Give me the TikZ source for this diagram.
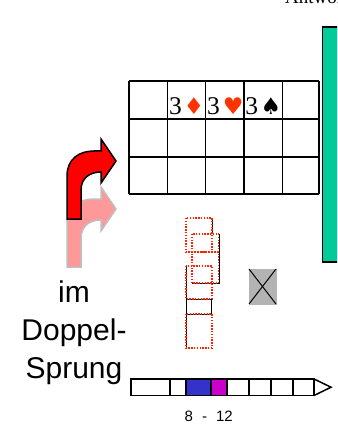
\documentclass[tikz,border=0pt]{standalone}
\usepackage{fontspec}
\setmainfont{Liberation Serif}
\newfontfamily\arialfont{Liberation Sans}
\newfontfamily\suitfont{DejaVu Sans}
\definecolor{suitred}{HTML}{FF3300}
\definecolor{tealgreen}{HTML}{00CC99}
\definecolor{arrowred}{HTML}{FF0000}
\definecolor{arrowpink}{HTML}{FF9999}
\definecolor{barblue}{HTML}{3333CC}
\definecolor{barmag}{HTML}{CC00CC}
\definecolor{xgray}{HTML}{B3B3B3}
\definecolor{dotred}{HTML}{FF2200}
\tikzset{
  gridline/.style={line width=1.5pt, black},
  cardtxt/.style={inner sep=0pt, font=\fontsize{25.5}{25.5}\selectfont},
  suittxt/.style={inner sep=0pt, font=\suitfont\fontsize{23}{23}\selectfont},
  bigsans/.style={inner sep=0pt, font=\arialfont\fontsize{30}{30}\selectfont},
  dotbox/.style={dotred, line width=1.4pt, dash pattern=on 1.4pt off 1.4pt},
  shadowline/.style={black, line width=0.9pt},
  barline/.style={line width=1.5pt, black},
}
\begin{document}
\begin{tikzpicture}[x=1pt,y=-1pt]
\useasboundingbox (0,0) rectangle (337,430);
\begin{scope}
\clip (0,0) rectangle (337,430);
\node[anchor=base west, inner sep=0pt, font=\fontsize{19}{19}\selectfont] (antw) at (285,4) {Antwort};
\draw[line width=1.5pt, fill=tealgreen] (322.7,27) rectangle (345,262);
\end{scope}

% grid
\foreach \x in {129,167.3,205.7,244,282.7,319} \draw[gridline] (\x,81) -- (\x,194);
\foreach \y in {81,119,157,194} \draw[gridline] (129,\y) -- (319,\y);
\node[cardtxt, anchor=base west] (t1) at (168.8,114.3) {3};
\node[cardtxt, anchor=base west] (t2) at (207,114.3) {3};
\node[cardtxt, anchor=base west] (t3) at (245.2,114.3) {3};
\node[suittxt, text=suitred] (s1) at (194,106.5) {♦};
\node[suittxt, text=suitred] (s2) at (233.3,106.5) {♥};
\node[suittxt, text=black] (s3) at (271,106.5) {♠};

% arrows
\begin{scope}[yshift=-48pt]
\draw[fill=arrowpink, draw=black!25, line width=1.5pt]
  (67,219) -- (67,176) .. controls (67,159) and (79,151) .. (94,151) -- (101,151)
  -- (101,139) -- (116,161) -- (101,183) -- (101,172)
  .. controls (90,172) and (81,178) .. (81,190) -- (81,219) -- cycle;
\end{scope}
\draw[fill=arrowred, draw=black, line width=1.5pt]
  (67,219) -- (67,176) .. controls (67,159) and (79,151) .. (94,151) -- (101,151)
  -- (101,139) -- (116,161) -- (101,183) -- (101,172)
  .. controls (90,172) and (81,178) .. (81,190) -- (81,219) -- cycle;

% stacked dotted boxes
\draw[shadowline] (186,266) -- (186,348);
\draw[shadowline] (186,299) rectangle (211,314);
\draw[shadowline] (219,234) -- (219,283) -- (192,283);
\draw[shadowline] (212,218) -- (212,234);
\draw[dotbox] (186,266) rectangle (212,299);
\draw[dotbox] (186,314) rectangle (212,348);
\draw[dotbox] (192,234) rectangle (218.5,283);
\draw[dotbox] (192,252) -- (218.5,252);
\draw[dotbox] (186,218) rectangle (212,252);

% grey X box
\draw[fill=xgray, draw=xgray] (249,269) rectangle (276,304);
\draw[black, line width=1pt] (249,269) -- (276,304);
\draw[black, line width=1pt] (276,269) -- (249,304);

% text
\node[bigsans, anchor=base] (im) at (74,302.7) {im};
\node[bigsans, anchor=base] (dop) at (74,340) {Doppel-};
\node[bigsans, anchor=base] (spr) at (74,378.3) {Sprung};

% bar
\fill[barblue] (186,379) rectangle (211,395.5);
\fill[barmag] (211,379) rectangle (227,395.5);
\draw[barline] (131,379) rectangle (314,395.5);
\foreach \x in {170,186,211,227,249,271,293} \draw[barline] (\x,379) -- (\x,395.5);
\draw[barline, line join=miter] (314,379) -- (331,387.2) -- (314,395.5);

\node[anchor=base west, inner sep=0pt, font=\arialfont\fontsize{15}{15}\selectfont] (lbl) at (184.5,421) {8\hspace{9pt}-\hspace{9pt}12};
\end{tikzpicture}
\end{document}
